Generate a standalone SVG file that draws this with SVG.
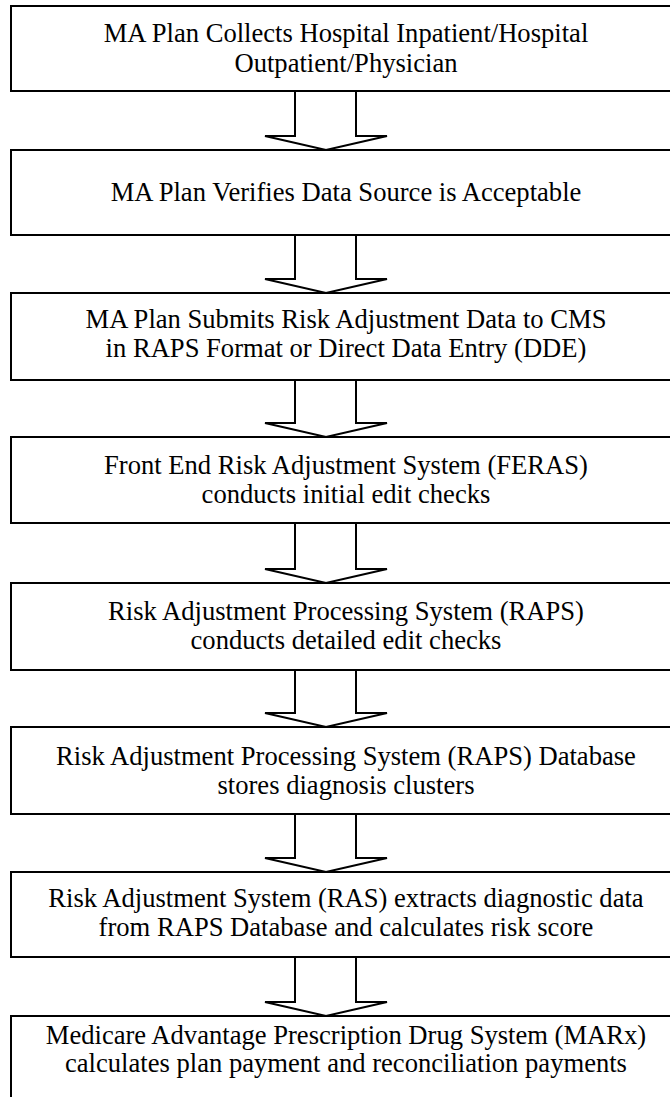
<svg xmlns="http://www.w3.org/2000/svg" width="670" height="1097" viewBox="0 0 670 1097">
<style>
.box{fill:#fff;stroke:#000;stroke-width:2}
.arr{fill:#fff;stroke:#000;stroke-width:2;stroke-linejoin:miter}
.t{font-family:"Liberation Serif","Times New Roman",serif;font-size:26.6px;fill:#000;text-anchor:middle}
</style>
<rect width="670" height="1097" fill="#fff"/>
<g id="connectors">
<path class="arr" d="M295,91 L295,136 L265,136 L326,150 L387,136 L356,136 L356,91"/>
<path class="arr" d="M295,235 L295,279 L265,279 L326,293 L387,279 L356,279 L356,235"/>
<path class="arr" d="M295,380 L295,423 L265,423 L326,437 L387,423 L356,423 L356,380"/>
<path class="arr" d="M295,523 L295,569 L265,569 L326,583 L387,569 L356,569 L356,523"/>
<path class="arr" d="M295,670 L295,713 L265,713 L326,727 L387,713 L356,713 L356,670"/>
<path class="arr" d="M295,814 L295,858 L265,858 L326,872 L387,858 L356,858 L356,814"/>
<path class="arr" d="M295,957 L295,1002 L265,1002 L326,1016 L387,1002 L356,1002 L356,957"/>
</g>
<g class="t">
<g id="n1"><rect class="box" x="11" y="6" width="672" height="85"/>
<text x="346" y="42">MA Plan Collects Hospital Inpatient/Hospital</text>
<text x="346" y="72">Outpatient/Physician</text></g>
<g id="n2"><rect class="box" x="11" y="150" width="672" height="85"/>
<text x="346" y="201">MA Plan Verifies Data Source is Acceptable</text></g>
<g id="n3"><rect class="box" x="11" y="293" width="672" height="87"/>
<text x="346" y="328">MA Plan Submits Risk Adjustment Data to CMS</text>
<text x="346" y="357">in RAPS Format or Direct Data Entry (DDE)</text></g>
<g id="n4"><rect class="box" x="11" y="437" width="672" height="86"/>
<text x="346" y="474">Front End Risk Adjustment System (FERAS)</text>
<text x="346" y="503">conducts initial edit checks</text></g>
<g id="n5"><rect class="box" x="11" y="583" width="672" height="87"/>
<text x="346" y="620">Risk Adjustment Processing System (RAPS)</text>
<text x="346" y="649">conducts detailed edit checks</text></g>
<g id="n6"><rect class="box" x="11" y="727" width="672" height="87"/>
<text x="346" y="765">Risk Adjustment Processing System (RAPS) Database</text>
<text x="346" y="794">stores diagnosis clusters</text></g>
<g id="n7"><rect class="box" x="11" y="872" width="672" height="85"/>
<text x="346" y="907">Risk Adjustment System (RAS) extracts diagnostic data</text>
<text x="346" y="936">from RAPS Database and calculates risk score</text></g>
<g id="n8"><rect class="box" x="11" y="1016" width="672" height="100"/>
<text x="346" y="1044">Medicare Advantage Prescription Drug System (MARx)</text>
<text x="346" y="1072">calculates plan payment and reconciliation payments</text></g>
</g>
</svg>
